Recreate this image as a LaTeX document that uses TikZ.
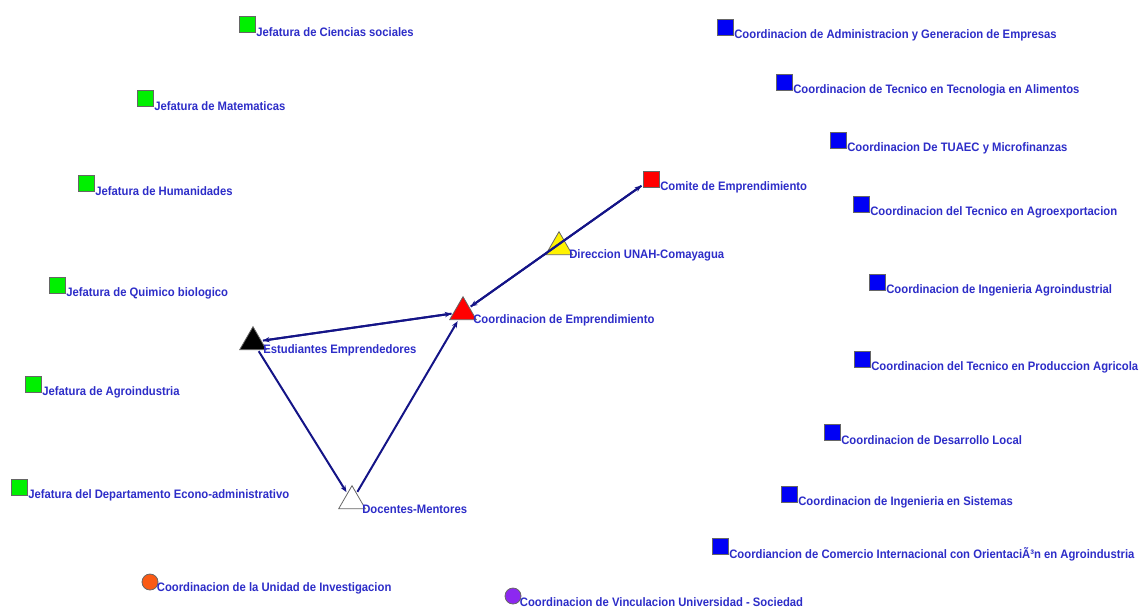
\documentclass[tikz,border=0pt]{standalone}
\usepackage{fontspec}
\setmainfont{Liberation Sans}
\newfontfamily\lblfont[FakeStretch=0.92]{Liberation Sans}
\usetikzlibrary{positioning,shapes.geometric,arrows.meta}
\definecolor{jgreen}{RGB}{0,240,0}
\definecolor{cblue}{RGB}{0,0,245}
\definecolor{lblue}{RGB}{45,45,200}
\definecolor{edgeblue}{RGB}{20,20,135}
\definecolor{orgorange}{RGB}{250,90,20}
\definecolor{orgpurple}{RGB}{140,40,240}
\tikzset{
  sq/.style={rectangle,draw=black!60,line width=0.6pt,minimum size=12pt,inner sep=0pt},
  jefatura/.style={sq,fill=jgreen},
  coordsq/.style={sq,fill=cblue},
  tri/.style={regular polygon,regular polygon sides=3,draw=black!60,line width=0.6pt,minimum size=23pt,inner sep=0pt},
  dot/.style={circle,draw=black!60,line width=0.6pt,minimum size=12pt,inner sep=0pt},
  lbl/.style={text=lblue,font=\lblfont\fontsize{9.2}{10}\selectfont\bfseries,inner sep=0.5pt},
  tie/.style={draw=edgeblue,line width=1.5pt,-{Stealth[length=5pt,width=4pt]},shorten >=1pt,shorten <=1pt},
}
\begin{document}
\begin{tikzpicture}[x=0.75pt,y=0.75pt,yscale=-1,xscale=1]
\useasboundingbox (0,0) rectangle (1146,608);
% Jefaturas
\node[jefatura] (j1) at (247,24) {};
\node[lbl,right=0pt of j1.south east] {Jefatura de Ciencias sociales};
\node[jefatura] (j2) at (145,98) {};
\node[lbl,right=0pt of j2.south east] {Jefatura de Matematicas};
\node[jefatura] (j3) at (86,183) {};
\node[lbl,right=0pt of j3.south east] {Jefatura de Humanidades};
\node[jefatura] (j4) at (57,285) {};
\node[lbl,right=0pt of j4.south east] {Jefatura de Quimico biologico};
\node[jefatura] (j5) at (33,384) {};
\node[lbl,right=0pt of j5.south east] {Jefatura de Agroindustria};
\node[jefatura] (j6) at (19,487) {};
\node[lbl,right=0pt of j6.south east] {Jefatura del Departamento Econo-administrativo};
% Coordinaciones
\node[coordsq] (c1) at (725,27) {};
\node[lbl,right=0pt of c1.south east] {Coordinacion de Administracion y Generacion de Empresas};
\node[coordsq] (c2) at (784,82) {};
\node[lbl,right=0pt of c2.south east] {Coordinacion de Tecnico en Tecnologia en Alimentos};
\node[coordsq] (c3) at (838,140) {};
\node[lbl,right=0pt of c3.south east] {Coordinacion De TUAEC y Microfinanzas};
\node[coordsq] (c4) at (861,204) {};
\node[lbl,right=0pt of c4.south east] {Coordinacion del Tecnico en Agroexportacion};
\node[coordsq] (c5) at (877,282) {};
\node[lbl,right=0pt of c5.south east] {Coordinacion de Ingenieria Agroindustrial};
\node[coordsq] (c6) at (862,359) {};
\node[lbl,right=0pt of c6.south east] {Coordinacion del Tecnico en Produccion Agricola};
\node[coordsq] (c7) at (832,432) {};
\node[lbl,right=0pt of c7.south east] {Coordinacion de Desarrollo Local};
\node[coordsq] (c8) at (789,494) {};
\node[lbl,right=0pt of c8.south east] {Coordinacion de Ingenieria en Sistemas};
\node[coordsq] (c9) at (720,546) {};
\node[lbl,right=0pt of c9.south east] {Coordiancion de Comercio Internacional con OrientaciÃ³n en Agroindustria};
% otros
\node[dot,fill=orgorange] (inv) at (150,582) {};
\node[lbl,right=0pt of inv.south east] {Coordinacion de la Unidad de Investigacion};
\node[dot,fill=orgpurple] (vin) at (513,596) {};
\node[lbl,right=0pt of vin.south east] {Coordinacion de Vinculacion Universidad - Sociedad};
% red de emprendimiento
\node[sq,fill=red] (comite) at (651,179) {};
\node[lbl,right=0pt of comite.south east] {Comite de Emprendimiento};
\node[tri,fill=yellow] (dir) at (559,247) {};
\node[lbl,right=1pt of dir.south east] {Direccion UNAH-Comayagua};
\node[tri,fill=red] (emp) at (463,312) {};
\node[lbl,right=1pt of emp.south east] {Coordinacion de Emprendimiento};
\node[tri,fill=black] (est) at (253,342) {};
\node[lbl,right=1pt of est.south east] {Estudiantes Emprendedores};
\node[tri,fill=white] (doc) at (352,501) {};
\node[lbl,right=1pt of doc.south east] {Docentes-Mentores};
\draw[tie] (est) -- (emp);
\draw[tie] (emp) -- (est);
\draw[tie] (est) -- (doc);
\draw[tie] (doc) -- (emp);
\draw[tie] (emp) -- (comite);
\draw[tie] (comite) -- (emp);
\end{tikzpicture}
\end{document}
